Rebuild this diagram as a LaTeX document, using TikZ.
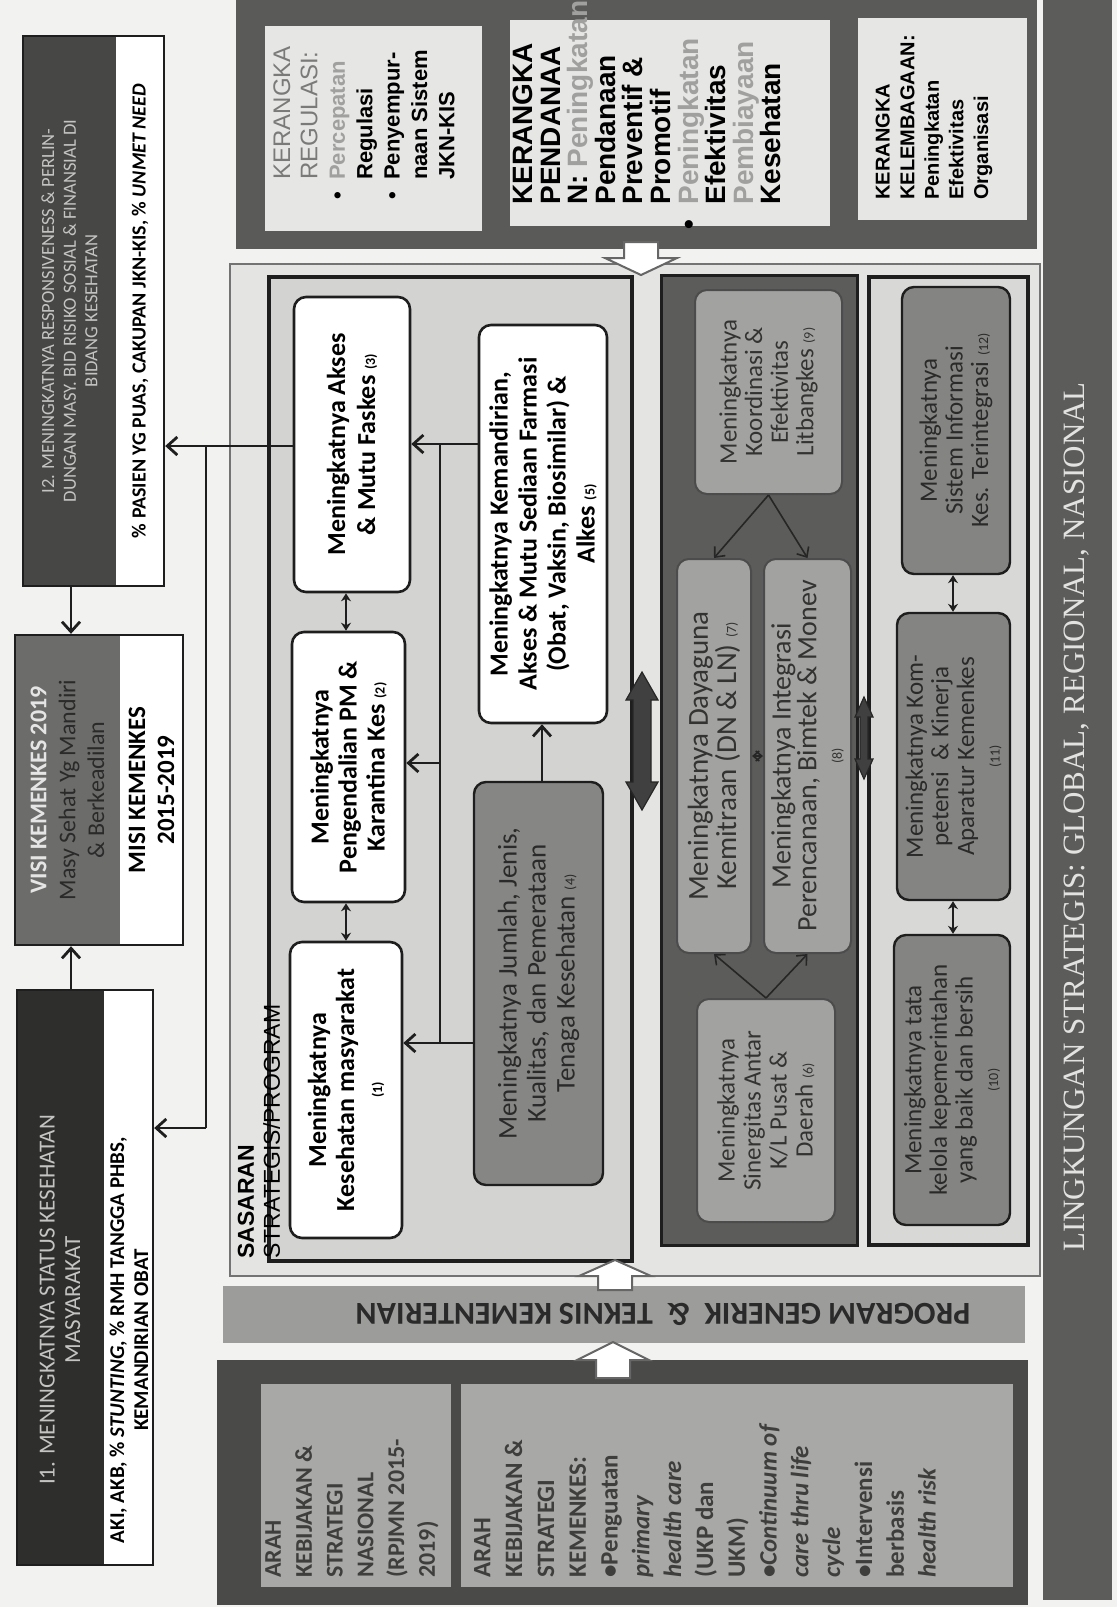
\documentclass[tikz,border=0pt]{standalone}
\usepackage{fontspec}
\setmainfont{Carlito}
\newfontfamily\arialf{Liberation Sans}
\newfontfamily\timesf{Liberation Serif}
\usetikzlibrary{arrows.meta,fit,calc}
\newcommand\fsz[2]{\fontsize{#1}{#2}\selectfont}
\newcommand\mkbox[6]{\coordinate (#1-a) at (#2,#3); \coordinate (#1-b) at (#4,#5); \node[fit=(#1-a)(#1-b), inner sep=0pt, #6] (#1) {};}
\definecolor{pagebg}{HTML}{F2F2F0}
\definecolor{dkA}{HTML}{474745}
\definecolor{dkB}{HTML}{2E2E2D}
\definecolor{visig}{HTML}{6C6C6A}
\definecolor{kfr}{HTML}{5A5A58}
\definecolor{kin}{HTML}{E6E6E4}
\definecolor{frbg}{HTML}{E4E4E2}
\definecolor{sbg}{HTML}{D3D3D1}
\definecolor{bfour}{HTML}{868684}
\definecolor{midf}{HTML}{5C5C5A}
\definecolor{midb}{HTML}{A2A2A0}
\definecolor{botf}{HTML}{D8D8D6}
\definecolor{botb}{HTML}{848482}
\definecolor{progc}{HTML}{9C9C9A}
\definecolor{bbf}{HTML}{4A4A48}
\definecolor{bbin}{HTML}{A8A8A6}
\definecolor{lingc}{HTML}{5C5C5A}
\definecolor{lnc}{HTML}{1E1E1E}
\definecolor{lightt}{HTML}{C4C4C2}
\definecolor{darkt}{HTML}{2A2A2A}
\definecolor{kgray}{HTML}{7A7A78}
\definecolor{kgrayb}{HTML}{A0A09E}
\definecolor{arahc}{HTML}{3E3E3C}
\definecolor{lingt}{HTML}{E2E2E0}
\definecolor{boxt}{HTML}{333331}
\begin{document}
\begin{tikzpicture}[x=0.5pt,y=-0.5pt,
  txt/.style={rotate=90, align=center, inner sep=0pt},
  wbox/.style={rounded corners=6pt, fill=white, draw=lnc, line width=1.3pt},
  gbox/.style={rounded corners=6pt, fill=bfour, draw=lnc, line width=1.2pt},
  mbox/.style={rounded corners=6pt, fill=midb, draw=black!70, line width=1pt},
  bbox/.style={rounded corners=6pt, fill=botb, draw=lnc, line width=1.2pt},
  ln/.style={draw=lnc, line width=1.4pt},
  arr/.style={draw=lnc, line width=1.4pt, -{Straight Barb[length=5pt,width=9pt]}},
  darr/.style={draw=lnc, line width=1.3pt, {Stealth[length=4pt,width=5pt]}-{Stealth[length=4pt,width=5pt]}},
  tarr/.style={draw=black!85, line width=0.8pt, -{Straight Barb[length=4pt,width=7pt]}},
  harr/.style={fill=white, draw=black!60, line width=1pt, line join=miter},
  dblk/.style={fill=black!75, draw=black!85, line width=0.6pt}]
\useasboundingbox (0,0) rectangle (1117,1607);
\fill[pagebg] (0,0) rectangle (1117,1607);

% ---------- left column ----------
\mkbox{I2d}{23}{36}{116}{586}{fill=dkA}
\mkbox{I2w}{116}{36}{164}{586}{fill=white}
\mkbox{I2}{23}{36}{164}{586}{draw=lnc, line width=1.2pt}
\node[txt, text=lightt, font=\fsz{9.3}{10.8}] (I2t) at (I2d) {I2. MENINGKATNYA RESPONSIVENESS \& PERLIN-\\DUNGAN MASY. BID RISIKO SOSIAL \& FINANSIAL DI\\BIDANG KESEHATAN};
\node[txt, font=\bfseries\fsz{10}{11}] (I2wt) at (I2w) {\% PASIEN YG PUAS, CAKUPAN JKN-KIS, \% \textit{UNMET NEED}};

\mkbox{Vg}{15}{635}{120}{945}{fill=visig}
\mkbox{Vw}{120}{635}{183}{945}{fill=white}
\mkbox{V}{15}{635}{183}{945}{draw=lnc, line width=1.2pt}
\node[txt, text=darkt, font=\fsz{12}{14.4}] (Vt) at (Vg) {{\bfseries\color{white!90!black}VISI KEMENKES 2019}\\Masy Sehat Yg Mandiri\\\& Berkeadilan};
\node[txt, font=\bfseries\fsz{12.5}{14.4}] (Vwt) at (Vw) {MISI KEMENKES\\2015-2019};

\mkbox{I1d}{17}{990}{104}{1565}{fill=dkB}
\mkbox{I1w}{104}{990}{153}{1565}{fill=white}
\mkbox{I1}{17}{990}{153}{1565}{draw=lnc, line width=1.2pt}
\node[txt, text=lightt, font=\fsz{11.5}{12.8}] (I1t) at (60,1300) {I1. MENINGKATNYA STATUS KESEHATAN\\MASYARAKAT};
\node[txt, font=\bfseries\fsz{10.5}{12}] (I1wt) at (129,1340) {AKI, AKB, \% \textit{STUNTING}, \% RMH TANGGA PHBS,\\KEMANDIRIAN OBAT};

\coordinate (cA) at (71,0);
\draw[arr] (I2.south -| cA) -- (V.north -| cA);
\draw[arr] (I1.north -| cA) -- (V.south -| cA);

% ---------- kerangka ----------
\mkbox{K}{236}{0}{1037}{249}{fill=kfr}
\mkbox{KR}{265}{26}{482}{231}{fill=kin}
\mkbox{KP}{510}{20}{830}{226}{fill=kin}
\mkbox{KK}{858}{18}{1027}{220}{fill=kin}
\node[txt, anchor=west, align=left, font=\arialf\bfseries\fsz{11}{13.7}] (KRt) at (364,200)
 {\hphantom{\textbullet\ \ }{\mdseries\color{kgray}\fsz{12}{13.7}KERANGKA}\\\hphantom{\textbullet\ \ }{\mdseries\color{kgray}\fsz{12}{13.7}REGULASI:}\\\textbullet\ \ {\color{kgrayb}Percepatan}\\\hphantom{\textbullet\ \ }Regulasi\\\textbullet\ \ Penyempur-\\\hphantom{\textbullet\ \ }naan Sistem\\\hphantom{\textbullet\ \ }JKN-KIS};
\node[txt, anchor=west, align=left, font=\arialf\bfseries\fsz{14}{13.8}] (KPt) at (647,205)
 {KERANGKA\\PENDANAA\\N: {\color{kgrayb}Peningkatan}\\Pendanaan\\Preventif \&\\Promotif\\\llap{\textbullet\ \ }{\color{kgrayb}Peningkatan}\\Efektivitas\\{\color{kgrayb}Pembiayaan}\\Kesehatan};
\node[txt, anchor=west, align=left, font=\arialf\bfseries\fsz{10}{12.3}] (KKt) at (934,200)
 {KERANGKA\\KELEMBAGAAN:\\Peningkatan\\Efektivitas\\Organisasi};

% ---------- outer frame and sasaran ----------
\mkbox{F}{230}{264}{1040}{1276}{fill=frbg, draw=black!55, line width=0.8pt}
\draw[harr] (624,242) -- (658,242) -- (658,258) -- (677,258) -- (641,275) -- (605,258) -- (624,258) -- cycle;
\mkbox{S}{269}{277}{632}{1261}{fill=sbg, draw=lnc, line width=2pt}

\mkbox{b3}{294}{297}{410}{592}{wbox}
\mkbox{b2}{292}{632}{405}{902}{wbox}
\mkbox{b1}{290}{942}{402}{1238}{wbox}
\mkbox{b5}{479}{325}{607}{723}{wbox}
\mkbox{b4}{474}{782}{603}{1185}{gbox}
\node[txt, font=\bfseries\fsz{13}{15}] (b3t) at (b3) {Meningkatnya Akses\\\& Mutu Faskes {\fsz{7}{8}(3)}};
\node[txt, font=\bfseries\fsz{13}{14}] (b2t) at (b2) {Meningkatnya\\Pengendalian PM \&\\Karantina Kes {\fsz{7}{8}(2)}};
\node[txt, font=\bfseries\fsz{13}{14}] (b1t) at (b1) {Meningkatnya\\Kesehatan masyarakat\\{\fsz{7}{8}(1)}};
\node[txt, font=\bfseries\fsz{13}{14.5}] (b5t) at (b5) {Meningkatnya Kemandirian,\\Akses \& Mutu Sediaan Farmasi\\(Obat, Vaksin, Biosimilar) \&\\Alkes {\fsz{7}{8}(5)}};
\node[txt, text=darkt, font=\fsz{13.5}{14.5}] (b4t) at (b4) {Meningkatnya Jumlah, Jenis,\\Kualitas, dan Pemerataan\\Tenaga Kesehatan {\fsz{7}{8}(4)}};
\node[txt, anchor=west, align=left, font=\arialf\fsz{11.5}{13}] (St) at (259,1259) {\textbf{SASARAN}\\STRATEGIS/PROGRAM};

\coordinate (cB) at (346,0);
\draw[darr] (b1.north -| cB) -- (b2.south -| cB);
\draw[darr] (b2.north -| cB) -- (b3.south -| cB);
\coordinate (cC) at (542,0);
\draw[arr] (b4.north -| cC) -- (b5.south -| cC);
\coordinate (busT) at (440,444);
\coordinate (busM) at (440,763);
\coordinate (busB) at (440,1043);
\draw[ln] (busT) -- (busB);
\draw[arr] (busT -| b5.west) -- (busT -| b3.east);
\draw[arr] (busB -| b4.west) -- (busB -| b1.east);
\draw[arr] (busM) -- (busM -| b2.east);

% left links to outcomes
\coordinate (rowA) at (0,446);
\coordinate (rowB) at (0,1128);
\coordinate (vA) at (206,0);
\draw[arr] (b3.west |- rowA) -- (I2.east |- rowA);
\draw[ln] (vA |- rowA) -- (vA |- rowB);
\draw[arr] (vA |- rowB) -- (I1.east |- rowB);

% ---------- middle dark section ----------
\mkbox{M}{661}{275}{857}{1245}{fill=midf, draw=lnc, line width=1.5pt}
\mkbox{b9}{695}{290}{842}{494}{mbox}
\mkbox{b7}{677}{559}{751}{953}{mbox}
\mkbox{b8}{764}{559}{851}{953}{mbox}
\mkbox{b6}{697}{999}{835}{1222}{mbox}
\node[txt, text=boxt, font=\fsz{12.5}{12.8}] (b9t) at (b9) {Meningkatnya\\Koordinasi \&\\Efektivitas\\Litbangkes {\fsz{7}{8}(9)}};
\node[txt, text=boxt, font=\fsz{14.5}{12.6}] (b7t) at (b7) {Meningkatnya Dayaguna\\Kemitraan (DN \& LN) {\fsz{7}{8}(7)}};
\node[txt, text=boxt, font=\fsz{14}{12.8}] (b8t) at (b8) {Meningkatnya Integrasi\\Perencanaan, Bimtek \& Monev\\{\fsz{7}{8}(8)}};
\node[txt, text=boxt, font=\fsz{12.5}{13}] (b6t) at (b6) {Meningkatnya\\Sinergitas Antar\\K/L Pusat \&\\Daerah {\fsz{7}{8}(6)}};
\draw[tarr] (b9.south) -- (b7.north);
\draw[tarr] (b9.south) -- (b8.north);
\draw[tarr] (b6.north) -- (b7.south);
\draw[tarr] (b6.north) -- (b8.south);
\draw[draw=black!85, line width=0.8pt, {Straight Barb[length=3pt,width=5pt]}-{Straight Barb[length=3pt,width=5pt]}] (b7.east) -- (b8.west);

% ---------- bottom section ----------
\mkbox{B}{869}{277}{1028}{1245}{fill=botf, draw=lnc, line width=2pt}
\mkbox{b12}{902}{287}{1010}{574}{bbox}
\mkbox{b11}{897}{613}{1010}{900}{bbox}
\mkbox{b10}{894}{935}{1010}{1225}{bbox}
\node[txt, text=darkt, font=\fsz{12.5}{12.8}] (b12t) at (b12) {Meningkatnya\\Sistem Informasi\\Kes. Terintegrasi {\fsz{7}{8}(12)}};
\node[txt, text=darkt, font=\fsz{12.5}{12.8}] (b11t) at (b11) {Meningkatnya Kom-\\petensi \ \& Kinerja\\Aparatur Kemenkes\\{\fsz{7}{8}(11)}};
\node[txt, text=darkt, font=\fsz{12.5}{12.8}] (b10t) at (b10) {Meningkatnya tata\\kelola kepemerintahan\\yang baik dan bersih\\{\fsz{7}{8}(10)}};
\coordinate (cD) at (953,0);
\draw[darr] (b10.north -| cD) -- (b11.south -| cD);
\draw[darr] (b11.north -| cD) -- (b12.south -| cD);

% block double arrows between sections
\draw[dblk] (642,672) -- (658,700) -- (651,700) -- (651,782) -- (658,782) -- (642,810) -- (626,782) -- (633,782) -- (633,700) -- (626,700) -- cycle;
\draw[dblk] (864,697) -- (873,717) -- (868,717) -- (868,759) -- (873,759) -- (864,779) -- (855,759) -- (860,759) -- (860,717) -- (855,717) -- cycle;

% ---------- program band ----------
\mkbox{P}{223}{1286}{1025}{1343}{fill=progc}
\node[rotate=180, inner sep=0pt, text=darkt, font=\bfseries\fsz{16}{18}] (Pt) at (663,1314) {PROGRAM GENERIK \ \& \ TEKNIS KEMENTERIAN};
\draw[harr] (598,1290) -- (632,1290) -- (632,1276) -- (651,1276) -- (615,1260) -- (579,1276) -- (598,1276) -- cycle;

% ---------- bottom block ----------
\mkbox{BB}{217}{1360}{1028}{1605}{fill=bbf}
\mkbox{AN}{261}{1384}{451}{1587}{fill=bbin}
\mkbox{AK}{461}{1384}{1013}{1587}{fill=bbin}
\draw[harr] (596,1378) -- (630,1378) -- (630,1360) -- (649,1360) -- (613,1342) -- (577,1360) -- (596,1360) -- cycle;
\node[txt, anchor=west, align=left, text=arahc, font=\bfseries\fsz{12}{15.4}] (ANt) at (352,1578) {ARAH\\KEBIJAKAN \&\\STRATEGI\\NASIONAL\\(RPJMN 2015-\\2019)};
\node[txt, anchor=west, align=left, text=arahc, font=\bfseries\fsz{12.5}{15.9}] (AKt) at (705,1578) {ARAH\\KEBIJAKAN \&\\STRATEGI\\KEMENKES:\\\textbullet Penguatan\\\textit{primary}\\\textit{health care}\\(UKP dan\\UKM)\\\textbullet\textit{Continuum of}\\\textit{care thru life}\\\textit{cycle}\\\textbullet Intervensi\\berbasis\\\textit{health risk}};

% ---------- lingkungan ----------
\mkbox{L}{1043}{0}{1112}{1600}{fill=lingc}
\node[txt, text=lingt, font=\timesf\fsz{15.5}{17}] (Lt) at (1077,817) {LINGKUNGAN STRATEGIS: GLOBAL, REGIONAL, NASIONAL};
\end{tikzpicture}
\end{document}
